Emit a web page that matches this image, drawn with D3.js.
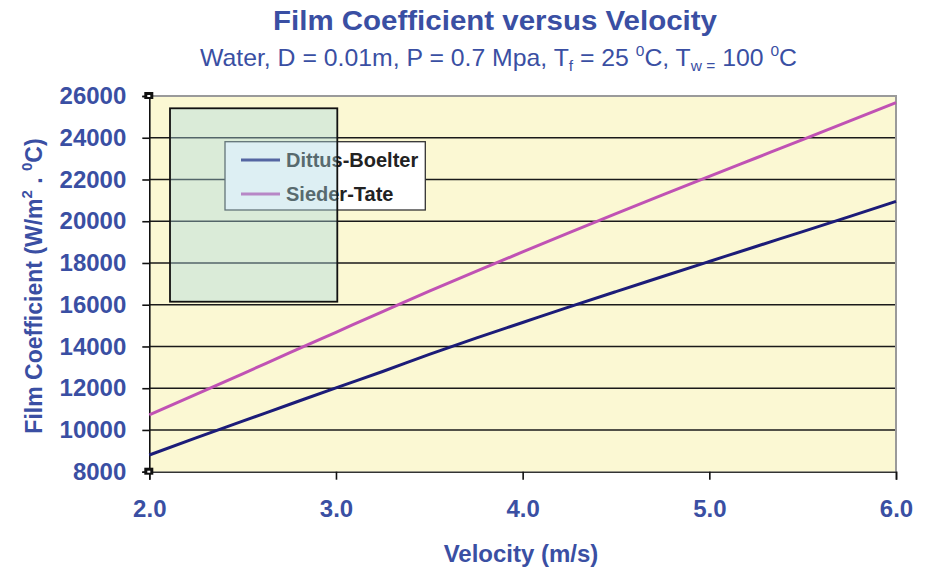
<!DOCTYPE html>
<html>
<head>
<meta charset="utf-8">
<script src="https://cdn.jsdelivr.net/npm/d3@7"></script>
<style>
  html, body { margin: 0; padding: 0; background: #fff; }
  svg { display: block; font-family: "Liberation Sans", Arial, sans-serif; }
</style>
</head>
<body>
<svg id="chart" width="929" height="569"></svg>
<script>
// Velocity (m/s)
const velocity = [2.0, 2.25, 2.5, 2.75, 3.0, 3.25, 3.5, 3.75, 4.0, 4.25, 4.5, 4.75, 5.0, 5.25, 5.5, 5.75, 6.0];
// Film coefficient (W/m2.C), Dittus-Boelter correlation
const dittusBoelter = [8800, 9620, 10420, 11220, 12020, 12800, 13620, 14400, 15150, 15900, 16630, 17350, 18070, 18790, 19500, 20220, 20950];
// Film coefficient (W/m2.C), Sieder-Tate correlation
const siederTate = [10720, 11700, 12690, 13690, 14680, 15670, 16650, 17600, 18530, 19450, 20360, 21260, 22150, 23030, 23910, 24800, 25680];
const seriesNames = ["Dittus-Boelter", "Sieder-Tate"];
const xTicks = [2.0, 3.0, 4.0, 5.0, 6.0];
const yTicks = [8000, 10000, 12000, 14000, 16000, 18000, 20000, 22000, 24000, 26000];

const textBlue = "#3A4FA3";
const colors = ["#1C1C78", "#C052B4"];

const svg = d3.select("#chart");
const plot = { left: 149.3, right: 896, top: 96, bottom: 471.7 };

const x = d3.scaleLinear().domain([2, 6]).range([plot.left, plot.right]);
const y = d3.scaleLinear().domain([8000, 26000]).range([plot.bottom, plot.top]);

// plot background
svg.append("rect")
  .attr("x", plot.left).attr("y", plot.top)
  .attr("width", plot.right - plot.left).attr("height", plot.bottom - plot.top)
  .attr("fill", "#FBF8D3");

// horizontal gridlines
svg.append("g")
  .selectAll("line")
  .data(yTicks.filter(d => d > 8000 && d < 26000))
  .join("line")
  .attr("x1", plot.left).attr("x2", plot.right)
  .attr("y1", d => y(d)).attr("y2", d => y(d))
  .attr("stroke", "#1a1a1a").attr("stroke-width", 1.6);

// top and right frame
svg.append("path")
  .attr("d", `M${plot.left},${plot.top}H${plot.right}V${plot.bottom}`)
  .attr("fill", "none").attr("stroke", "#9a9a9a").attr("stroke-width", 2);

// y axis
const yAxis = d3.axisLeft(y).tickValues(yTicks).tickFormat(d3.format("d")).tickSize(7).tickPadding(16);
const gy = svg.append("g").attr("transform", `translate(${plot.left},0)`).call(yAxis);
gy.select(".domain").attr("stroke", "#111").attr("stroke-width", 1.6);
gy.selectAll(".tick line").attr("stroke", "#111").attr("stroke-width", 1.6);
gy.selectAll(".tick text")
  .attr("fill", textBlue).attr("font-size", 24).attr("font-weight", "bold")
  .attr("font-family", "'Liberation Sans', Arial, sans-serif");

// x axis
const xAxis = d3.axisBottom(x).tickValues(xTicks).tickFormat(d3.format(".1f")).tickSize(8).tickPadding(20);
const gx = svg.append("g").attr("transform", `translate(0,${plot.bottom})`).call(xAxis);
gx.select(".domain").attr("stroke", "#333").attr("stroke-width", 1.6);
gx.selectAll(".tick line").attr("stroke", "#111").attr("stroke-width", 1.6);
gx.selectAll(".tick text")
  .attr("fill", textBlue).attr("font-size", 24).attr("font-weight", "bold")
  .attr("font-family", "'Liberation Sans', Arial, sans-serif");

// small corner handles on the value axis
[26000, 8000].forEach(v => {
  svg.append("rect").attr("x", plot.left - 5).attr("y", y(v) - 4)
    .attr("width", 9).attr("height", 7).attr("fill", "#111");
  svg.append("rect").attr("x", plot.left - 2).attr("y", y(v) - 1)
    .attr("width", 3).attr("height", 2).attr("fill", "#fff");
});

// series lines
const line = d3.line().x((d, i) => x(velocity[i])).y(d => y(d)).curve(d3.curveMonotoneX);
[dittusBoelter, siederTate].forEach((vals, k) => {
  svg.append("path")
    .datum(vals)
    .attr("d", line)
    .attr("fill", "none")
    .attr("stroke", colors[k])
    .attr("stroke-width", 3);
});

// legend
const legend = svg.append("g");
legend.append("rect")
  .attr("x", 225).attr("y", 141.7).attr("width", 200.3).attr("height", 68.3)
  .attr("fill", "#fff").attr("stroke", "#333").attr("stroke-width", 1.3);
seriesNames.forEach((name, k) => {
  const yy = 160 + k * 34;
  legend.append("line")
    .attr("x1", 241).attr("x2", 280).attr("y1", yy).attr("y2", yy)
    .attr("stroke", colors[k]).attr("stroke-width", 3);
  legend.append("text")
    .attr("x", 286).attr("y", yy + 7)
    .attr("font-size", 20).attr("font-weight", "bold")
    .attr("fill", "#222")
    .text(name);
});

// translucent selection box over the upper-left of the plot
svg.append("rect")
  .attr("x", 170).attr("y", 108.3).attr("width", 167.3).attr("height", 193.4)
  .attr("fill", "rgba(170,215,225,0.4)")
  .attr("stroke", "#111").attr("stroke-width", 1.8);

// titles
svg.append("text")
  .attr("x", 273).attr("y", 29.5)
  .attr("textLength", 444).attr("lengthAdjust", "spacingAndGlyphs")
  .attr("font-size", 27).attr("font-weight", "bold").attr("fill", textBlue)
  .text("Film Coefficient versus Velocity");

const sub = svg.append("text")
  .attr("x", 200).attr("y", 65.5)
  .attr("textLength", 597).attr("lengthAdjust", "spacingAndGlyphs")
  .attr("font-size", 24).attr("fill", textBlue);
sub.append("tspan").text("Water, D = 0.01m, P = 0.7 Mpa, T");
sub.append("tspan").attr("font-size", 15).attr("dy", 5).text("f");
sub.append("tspan").attr("dy", -5).text(" = 25 ");
sub.append("tspan").attr("font-size", 15).attr("dy", -10).text("0");
sub.append("tspan").attr("dy", 10).text("C, T");
sub.append("tspan").attr("font-size", 15).attr("dy", 5).text("w =");
sub.append("tspan").attr("dy", -5).text(" 100 ");
sub.append("tspan").attr("font-size", 15).attr("dy", -10).text("0");
sub.append("tspan").attr("dy", 10).text("C");

// axis titles
svg.append("text")
  .attr("x", 521).attr("y", 562)
  .attr("text-anchor", "middle")
  .attr("font-size", 24).attr("font-weight", "bold").attr("fill", textBlue)
  .text("Velocity (m/s)");

const yt = svg.append("text")
  .attr("transform", "translate(42,286) rotate(-90)")
  .attr("text-anchor", "middle")
  .attr("font-size", 23).attr("font-weight", "bold").attr("fill", textBlue);
yt.append("tspan").text("Film Coefficient (W/m");
yt.append("tspan").attr("font-size", 15).attr("dy", -10).text("2");
yt.append("tspan").attr("dy", 10).text(" . ");
yt.append("tspan").attr("font-size", 15).attr("dy", -10).text("0");
yt.append("tspan").attr("dy", 10).text("C)");
</script>
</body>
</html>
